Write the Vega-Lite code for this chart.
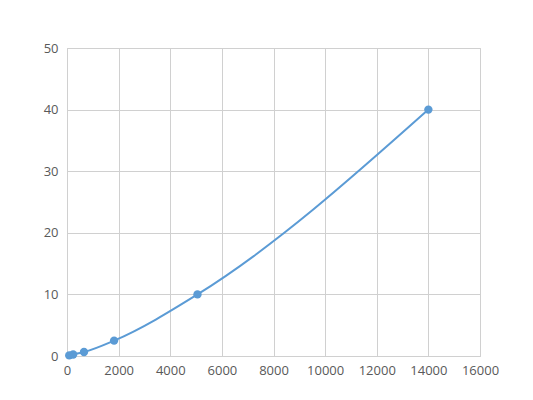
{
  "$schema": "https://vega.github.io/schema/vega-lite/v6.json",
  "width": 413, "height": 308,
  "autosize": {"type": "none"},
  "padding": {"left": 67, "top": 48, "right": 53, "bottom": 44},
  "background": "white",
  "config": {
    "view": {"stroke": "#cccccc"},
    "font": "Open Sans",
    "axis": {
      "gridColor": "#d0d0d0", "domainColor": "#d0d0d0", "ticks": false,
      "labelColor": "#595959", "labelFontSize": 13, "labelFont": "Open Sans",
      "labelOverlap": false, "labelFlush": false,
      "title": null
    }
  },
  "data": {"values": [
    {"conc": 86, "od": 0.1},
    {"conc": 238, "od": 0.25},
    {"conc": 659, "od": 0.65},
    {"conc": 1825, "od": 2.5},
    {"conc": 5055, "od": 10},
    {"conc": 14000, "od": 40}
  ]},
  "encoding": {
    "x": {"field": "conc", "type": "quantitative",
      "scale": {"domain": [0, 16000], "nice": false},
      "axis": {"values": [0,2000,4000,6000,8000,10000,12000,14000,16000], "labelPadding": 8, "format": "d"}},
    "y": {"field": "od", "type": "quantitative",
      "scale": {"domain": [0, 50], "nice": false},
      "axis": {"values": [0,10,20,30,40,50], "labelPadding": 9}}
  },
  "layer": [
    {"mark": {"type": "line", "interpolate": "monotone", "color": "#5b9bd5", "strokeWidth": 2}},
    {"mark": {"type": "point", "filled": true, "size": 70, "color": "#5b9bd5", "opacity": 1}}
  ]
}
